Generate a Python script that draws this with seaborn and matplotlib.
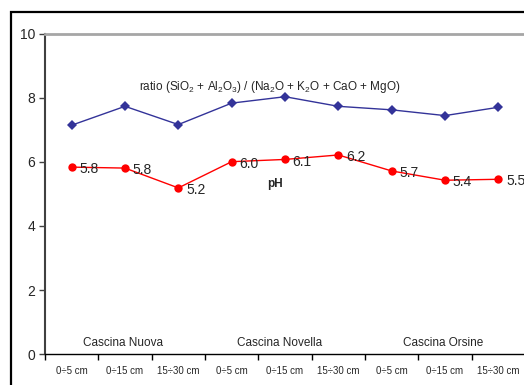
import matplotlib
matplotlib.use("Agg")
import matplotlib.pyplot as plt
from matplotlib.patches import Rectangle
import seaborn as sns
import pandas as pd

# Soil sampling depths at three farms
farms = ["Cascina Nuova", "Cascina Novella", "Cascina Orsine"]
depths = ["0÷5 cm", "0÷15 cm", "15÷30 cm"]
depth_labels = depths * 3

# Oxide ratio (SiO2 + Al2O3) / (Na2O + K2O + CaO + MgO)
ratio = [7.15, 7.74, 7.17, 7.84, 8.04, 7.74, 7.63, 7.45, 7.71]
# Soil pH
ph = [5.84, 5.81, 5.19, 6.01, 6.08, 6.22, 5.72, 5.43, 5.46]

sns.set_style("white")
plt.rcParams["font.family"] = ["Liberation Sans", "DejaVu Sans"]
plt.rcParams["mathtext.fontset"] = "custom"
plt.rcParams["mathtext.rm"] = "Liberation Sans"
plt.rcParams["mathtext.it"] = "Liberation Sans"

df = pd.DataFrame({"pos": range(len(depth_labels)), "ratio": ratio, "ph": ph})

fig = plt.figure(figsize=(5.24, 3.85), dpi=100)
ax = fig.add_axes([45 / 524, 1 - 354 / 385, 480 / 524, 320 / 385])

# Outer chart frame
fig.patches.append(Rectangle((11 / 524, -0.2), 1.2, 0.2 + (1 - 12 / 385),
                             transform=fig.transFigure, fill=False,
                             edgecolor="black", linewidth=1.6, zorder=0))

sns.lineplot(data=df, x="pos", y="ratio", ax=ax, color="#333399", marker="D",
             markersize=5, markeredgewidth=0, linewidth=1.0, clip_on=False)
sns.lineplot(data=df, x="pos", y="ph", ax=ax, color="#ff0000", marker="o",
             markersize=6, markeredgewidth=0, linewidth=1.0, clip_on=False)

for x, v in zip(df["pos"], ph):
    ax.annotate(f"{v:.1f}", (x, v), xytext=(5.5, -1.5), textcoords="offset points",
                ha="left", va="center", fontsize=10, annotation_clip=False)

ax.set_xlim(-0.5, len(depth_labels) - 0.5)
ax.set_ylim(0, 10)
ax.set_yticks([0, 2, 4, 6, 8, 10])
ax.set_xlabel("")
ax.set_ylabel("")

# Category labels centred, tick marks on category boundaries
ax.set_xticks(range(len(depth_labels)))
ax.set_xticklabels(depth_labels, fontsize=7)
ax.set_xticks([i - 0.5 for i in range(len(depth_labels) + 1)], minor=True)
ax.tick_params(axis="x", which="major", length=0, pad=9)
ax.tick_params(axis="x", which="minor", length=4, width=1, color="black", direction="out")
ax.tick_params(axis="y", length=4, width=1, color="#404040", direction="out",
               labelsize=10, pad=3)
ax.yaxis.set_ticks_position("left")
ax.xaxis.set_ticks_position("bottom")

ax.spines["top"].set_color("#a6a6a6")
ax.spines["top"].set_linewidth(2)
ax.spines["left"].set_color("#404040")
ax.spines["left"].set_linewidth(1.5)
ax.spines["bottom"].set_color("black")
ax.spines["bottom"].set_linewidth(1.0)
ax.spines["right"].set_visible(False)

ax.text(3.72, 8.35,
        r"ratio (SiO$_2$ + Al$_2$O$_3$) / (Na$_2$O + K$_2$O + CaO + MgO)",
        ha="center", va="center", fontsize=8.5)
ax.text(3.81, 5.31, "pH", ha="center", va="center", fontsize=8.5, fontweight="bold")

for farm, xc in zip(farms, [0.96, 3.89, 6.96]):
    ax.text(xc, 0.34, farm, ha="center", va="center", fontsize=8.5)

fig.savefig("out.png", dpi=100)
